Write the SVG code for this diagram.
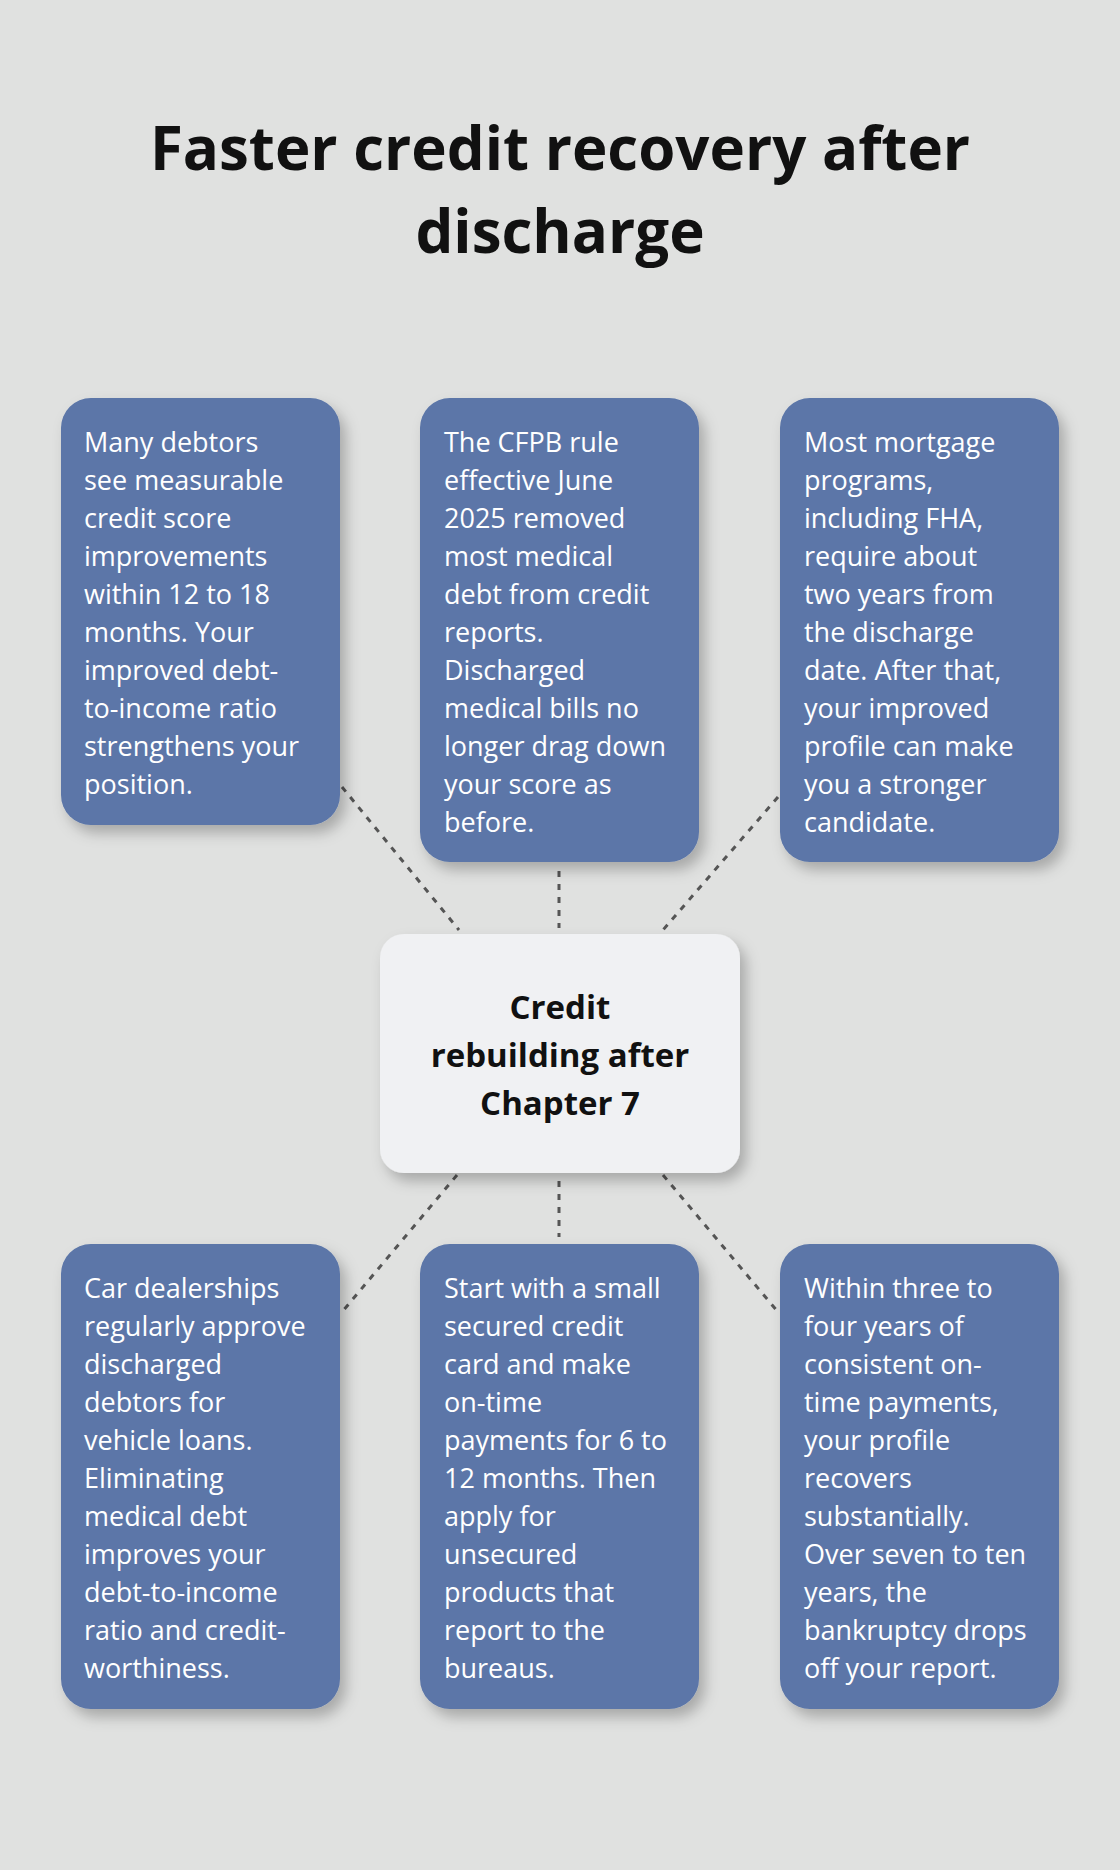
<svg xmlns="http://www.w3.org/2000/svg" width="1120" height="1870" viewBox="0 0 1120 1870">
<style>
.bg{fill:#e0e1e0}
.box{fill:#5b76a8;filter:url(#sh)}
.t{font-family:"Open Sans","Noto Sans",sans-serif;font-size:27px;fill:#ffffff}
.c{font-family:"Open Sans","Noto Sans",sans-serif;font-size:33px;font-weight:bold;fill:#111;text-anchor:middle}
.title{font-family:"Open Sans","Noto Sans",sans-serif;font-size:60px;font-weight:bold;fill:#111;text-anchor:middle}
.ln{stroke:#555;stroke-width:3;stroke-dasharray:6 7;fill:none}
</style>
<defs>
<filter id="sh" x="-20%" y="-20%" width="150%" height="150%"><feDropShadow dx="6" dy="8" stdDeviation="7" flood-color="#000" flood-opacity="0.25"/></filter>
</defs>
<rect class="bg" width="1120" height="1870"/>
<text class="title" x="560" y="170">Faster credit recovery after</text>
<text class="title" x="560" y="253">discharge</text>
<g id="connectors">
<line class="ln" x1="342" y1="787" x2="459" y2="930"/>
<line class="ln" x1="559" y1="871" x2="559" y2="928"/>
<line class="ln" x1="778" y1="797" x2="663" y2="930"/>
<line class="ln" x1="457" y1="1175" x2="342" y2="1312"/>
<line class="ln" x1="559" y1="1181" x2="559" y2="1237"/>
<line class="ln" x1="663" y1="1175" x2="778" y2="1312"/>
</g>
<g id="center"><rect x="380" y="934" width="360" height="239" rx="24" fill="#f0f1f3" style="filter:url(#sh)"/>
<text class="c"><tspan x="560" y="1019">Credit</tspan><tspan x="560" y="1067">rebuilding after</tspan><tspan x="560" y="1115">Chapter 7</tspan></text></g>
<g id="n1"><rect class="box" x="61" y="398" width="279" height="427" rx="30"/>
<text class="t"><tspan x="84" y="452">Many debtors</tspan><tspan x="84" y="490">see measurable</tspan><tspan x="84" y="528">credit score</tspan><tspan x="84" y="566">improvements</tspan><tspan x="84" y="604">within 12 to 18</tspan><tspan x="84" y="642">months. Your</tspan><tspan x="84" y="680">improved debt-</tspan><tspan x="84" y="718">to-income ratio</tspan><tspan x="84" y="756">strengthens your</tspan><tspan x="84" y="794">position.</tspan></text></g>
<g id="n2"><rect class="box" x="420" y="398" width="279" height="464" rx="30"/>
<text class="t"><tspan x="444" y="452">The CFPB rule</tspan><tspan x="444" y="490">effective June</tspan><tspan x="444" y="528">2025 removed</tspan><tspan x="444" y="566">most medical</tspan><tspan x="444" y="604">debt from credit</tspan><tspan x="444" y="642">reports.</tspan><tspan x="444" y="680">Discharged</tspan><tspan x="444" y="718">medical bills no</tspan><tspan x="444" y="756">longer drag down</tspan><tspan x="444" y="794">your score as</tspan><tspan x="444" y="832">before.</tspan></text></g>
<g id="n3"><rect class="box" x="780" y="398" width="279" height="464" rx="30"/>
<text class="t"><tspan x="804" y="452">Most mortgage</tspan><tspan x="804" y="490">programs,</tspan><tspan x="804" y="528">including FHA,</tspan><tspan x="804" y="566">require about</tspan><tspan x="804" y="604">two years from</tspan><tspan x="804" y="642">the discharge</tspan><tspan x="804" y="680">date. After that,</tspan><tspan x="804" y="718">your improved</tspan><tspan x="804" y="756">profile can make</tspan><tspan x="804" y="794">you a stronger</tspan><tspan x="804" y="832">candidate.</tspan></text></g>
<g id="n4"><rect class="box" x="61" y="1244" width="279" height="465" rx="30"/>
<text class="t"><tspan x="84" y="1298">Car dealerships</tspan><tspan x="84" y="1336">regularly approve</tspan><tspan x="84" y="1374">discharged</tspan><tspan x="84" y="1412">debtors for</tspan><tspan x="84" y="1450">vehicle loans.</tspan><tspan x="84" y="1488">Eliminating</tspan><tspan x="84" y="1526">medical debt</tspan><tspan x="84" y="1564">improves your</tspan><tspan x="84" y="1602">debt-to-income</tspan><tspan x="84" y="1640">ratio and credit-</tspan><tspan x="84" y="1678">worthiness.</tspan></text></g>
<g id="n5"><rect class="box" x="420" y="1244" width="279" height="465" rx="30"/>
<text class="t"><tspan x="444" y="1298">Start with a small</tspan><tspan x="444" y="1336">secured credit</tspan><tspan x="444" y="1374">card and make</tspan><tspan x="444" y="1412">on-time</tspan><tspan x="444" y="1450">payments for 6 to</tspan><tspan x="444" y="1488">12 months. Then</tspan><tspan x="444" y="1526">apply for</tspan><tspan x="444" y="1564">unsecured</tspan><tspan x="444" y="1602">products that</tspan><tspan x="444" y="1640">report to the</tspan><tspan x="444" y="1678">bureaus.</tspan></text></g>
<g id="n6"><rect class="box" x="780" y="1244" width="279" height="465" rx="30"/>
<text class="t"><tspan x="804" y="1298">Within three to</tspan><tspan x="804" y="1336">four years of</tspan><tspan x="804" y="1374">consistent on-</tspan><tspan x="804" y="1412">time payments,</tspan><tspan x="804" y="1450">your profile</tspan><tspan x="804" y="1488">recovers</tspan><tspan x="804" y="1526">substantially.</tspan><tspan x="804" y="1564">Over seven to ten</tspan><tspan x="804" y="1602">years, the</tspan><tspan x="804" y="1640">bankruptcy drops</tspan><tspan x="804" y="1678">off your report.</tspan></text></g>
</svg>
